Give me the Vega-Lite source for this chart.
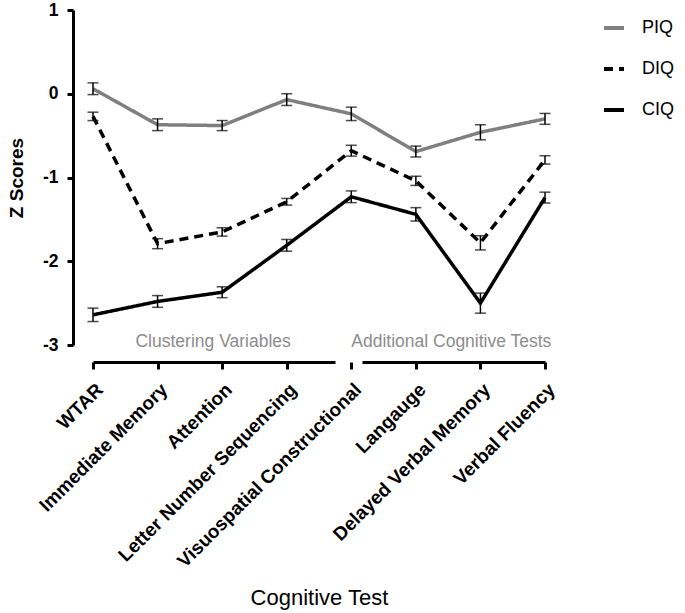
{
  "$schema": "https://vega.github.io/schema/vega-lite/v6.json",
  "width": 530,
  "height": 335,
  "autosize": {"type": "none"},
  "padding": {"left": 73, "top": 10, "right": 82, "bottom": 268},
  "config": {"view": {"stroke": null}, "font": "Liberation Sans"},
  "datasets": {
    "scores": [
      {"test": "WTAR", "iq": "PIQ", "z": 0.06, "lo": -0.01, "hi": 0.13},
      {"test": "Immediate Memory", "iq": "PIQ", "z": -0.37, "lo": -0.44, "hi": -0.30},
      {"test": "Attention", "iq": "PIQ", "z": -0.38, "lo": -0.44, "hi": -0.32},
      {"test": "Letter Number Sequencing", "iq": "PIQ", "z": -0.07, "lo": -0.14, "hi": 0.00},
      {"test": "Visuospatial Constructional", "iq": "PIQ", "z": -0.24, "lo": -0.32, "hi": -0.16},
      {"test": "Langauge", "iq": "PIQ", "z": -0.69, "lo": -0.755, "hi": -0.625},
      {"test": "Delayed Verbal Memory", "iq": "PIQ", "z": -0.46, "lo": -0.55, "hi": -0.37},
      {"test": "Verbal Fluency", "iq": "PIQ", "z": -0.30, "lo": -0.365, "hi": -0.235},
      {"test": "WTAR", "iq": "DIQ", "z": -0.27, "lo": -0.32, "hi": -0.22},
      {"test": "Immediate Memory", "iq": "DIQ", "z": -1.79, "lo": -1.85, "hi": -1.73},
      {"test": "Attention", "iq": "DIQ", "z": -1.65, "lo": -1.70, "hi": -1.60},
      {"test": "Letter Number Sequencing", "iq": "DIQ", "z": -1.29, "lo": -1.33, "hi": -1.25},
      {"test": "Visuospatial Constructional", "iq": "DIQ", "z": -0.68, "lo": -0.745, "hi": -0.615},
      {"test": "Langauge", "iq": "DIQ", "z": -1.04, "lo": -1.095, "hi": -0.985},
      {"test": "Delayed Verbal Memory", "iq": "DIQ", "z": -1.78, "lo": -1.865, "hi": -1.695},
      {"test": "Verbal Fluency", "iq": "DIQ", "z": -0.79, "lo": -0.84, "hi": -0.74},
      {"test": "WTAR", "iq": "CIQ", "z": -2.64, "lo": -2.72, "hi": -2.56},
      {"test": "Immediate Memory", "iq": "CIQ", "z": -2.48, "lo": -2.55, "hi": -2.41},
      {"test": "Attention", "iq": "CIQ", "z": -2.37, "lo": -2.435, "hi": -2.305},
      {"test": "Letter Number Sequencing", "iq": "CIQ", "z": -1.81, "lo": -1.88, "hi": -1.74},
      {"test": "Visuospatial Constructional", "iq": "CIQ", "z": -1.23, "lo": -1.30, "hi": -1.16},
      {"test": "Langauge", "iq": "CIQ", "z": -1.44, "lo": -1.52, "hi": -1.36},
      {"test": "Delayed Verbal Memory", "iq": "CIQ", "z": -2.50, "lo": -2.62, "hi": -2.38},
      {"test": "Verbal Fluency", "iq": "CIQ", "z": -1.24, "lo": -1.305, "hi": -1.175}
    ]
  },
  "layer": [
    {
      "data": {"name": "scores"},
      "mark": {"type": "line", "strokeWidth": 3.5},
      "encoding": {
        "x": {
          "field": "test",
          "type": "nominal",
          "sort": ["WTAR", "Immediate Memory", "Attention", "Letter Number Sequencing", "Visuospatial Constructional", "Langauge", "Delayed Verbal Memory", "Verbal Fluency"],
          "scale": {"type": "point", "range": [20, 472], "padding": 0},
          "title": "Cognitive Test",
          "axis": {
            "offset": 17,
            "domainColor": "black",
            "domainWidth": 3,
            "domainDash": [242, 27, 240],
            "tickColor": "black",
            "tickWidth": 3,
            "tickSize": 7,
            "labelAngle": -45,
            "labelFont": "Liberation Sans",
            "labelFontWeight": "bold",
            "labelFontSize": 19,
            "labelColor": "black",
            "labelPadding": 11,
            "labelLimit": 0,
            "titleFont": "Liberation Sans",
            "titleFontSize": 22,
            "titleFontWeight": "normal",
            "titleColor": "black",
            "titlePadding": 25
          }
        },
        "y": {
          "field": "z",
          "type": "quantitative",
          "title": "Z Scores",
          "scale": {"domain": [-3, 1], "nice": false, "zero": false},
          "axis": {
            "values": [-3, -2, -1, 0, 1],
            "labelExpr": "'' + datum.value",
            "grid": false,
            "domainColor": "black",
            "domainWidth": 3,
            "tickColor": "black",
            "tickWidth": 3,
            "tickSize": 6,
            "labelFont": "Liberation Sans",
            "labelFontWeight": "bold",
            "labelFontSize": 17.5,
            "labelColor": "black",
            "labelPadding": 9,
            "titleFont": "Liberation Sans",
            "titleFontSize": 19,
            "titleFontWeight": "bold",
            "titleColor": "black",
            "titlePadding": 16
          }
        },
        "color": {
          "field": "iq",
          "type": "nominal",
          "scale": {"domain": ["PIQ", "DIQ", "CIQ"], "range": ["#7f7f7f", "#000000", "#000000"]},
          "legend": {
            "title": null,
            "orient": "none",
            "legendX": 529,
            "legendY": 6,
            "symbolType": "stroke",
            "symbolSize": 400,
            "symbolStrokeWidth": 4,
            "labelFont": "Liberation Sans",
            "labelFontSize": 18,
            "labelColor": "black",
            "labelOffset": 16,
            "rowPadding": 20
          }
        },
        "strokeDash": {
          "field": "iq",
          "type": "nominal",
          "scale": {"domain": ["PIQ", "DIQ", "CIQ"], "range": [[1, 0], [9, 6], [1, 0]]},
          "legend": {
            "title": null,
            "orient": "none",
            "legendX": 529,
            "legendY": 6,
            "symbolType": "stroke",
            "symbolSize": 400,
            "symbolStrokeWidth": 4,
            "labelFont": "Liberation Sans",
            "labelFontSize": 18,
            "labelColor": "black",
            "labelOffset": 16,
            "rowPadding": 20
          }
        }
      }
    },
    {
      "mark": {"type": "rule", "strokeDash": [2, 4], "strokeWidth": 1.5, "color": "black"},
      "encoding": {"y": {"datum": 0, "type": "quantitative"}}
    },
    {
      "data": {"name": "scores"},
      "mark": {"type": "rule", "color": "black", "strokeWidth": 1.5},
      "encoding": {
        "x": {"field": "test", "type": "nominal", "sort": ["WTAR", "Immediate Memory", "Attention", "Letter Number Sequencing", "Visuospatial Constructional", "Langauge", "Delayed Verbal Memory", "Verbal Fluency"]},
        "y": {"field": "lo", "type": "quantitative", "title": "Z Scores"},
        "y2": {"field": "hi"}
      }
    },
    {
      "data": {"name": "scores"},
      "mark": {"type": "tick", "color": "black", "thickness": 1.5, "size": 11, "orient": "horizontal"},
      "encoding": {
        "x": {"field": "test", "type": "nominal", "sort": ["WTAR", "Immediate Memory", "Attention", "Letter Number Sequencing", "Visuospatial Constructional", "Langauge", "Delayed Verbal Memory", "Verbal Fluency"]},
        "y": {"field": "lo", "type": "quantitative", "title": "Z Scores"}
      }
    },
    {
      "data": {"name": "scores"},
      "mark": {"type": "tick", "color": "black", "thickness": 1.5, "size": 11, "orient": "horizontal"},
      "encoding": {
        "x": {"field": "test", "type": "nominal", "sort": ["WTAR", "Immediate Memory", "Attention", "Letter Number Sequencing", "Visuospatial Constructional", "Langauge", "Delayed Verbal Memory", "Verbal Fluency"]},
        "y": {"field": "hi", "type": "quantitative", "title": "Z Scores"}
      }
    },
    {
      "data": {"values": [{"label": "Clustering Variables", "test": "Attention"}]},
      "mark": {"type": "text", "align": "center", "baseline": "alphabetic", "fontSize": 17.5, "color": "#8c8c8c", "dy": 2, "dx": -9},
      "encoding": {
        "x": {"field": "test", "type": "nominal", "sort": ["WTAR", "Immediate Memory", "Attention", "Letter Number Sequencing", "Visuospatial Constructional", "Langauge", "Delayed Verbal Memory", "Verbal Fluency"]},
        "y": {"datum": -3, "type": "quantitative"},
        "text": {"field": "label"}
      }
    },
    {
      "data": {"values": [{"label": "Additional Cognitive Tests", "test": "Visuospatial Constructional"}]},
      "mark": {"type": "text", "align": "left", "baseline": "alphabetic", "fontSize": 17.5, "color": "#8c8c8c", "dy": 2},
      "encoding": {
        "x": {"field": "test", "type": "nominal", "sort": ["WTAR", "Immediate Memory", "Attention", "Letter Number Sequencing", "Visuospatial Constructional", "Langauge", "Delayed Verbal Memory", "Verbal Fluency"]},
        "y": {"datum": -3, "type": "quantitative"},
        "text": {"field": "label"}
      }
    }
  ]
}
